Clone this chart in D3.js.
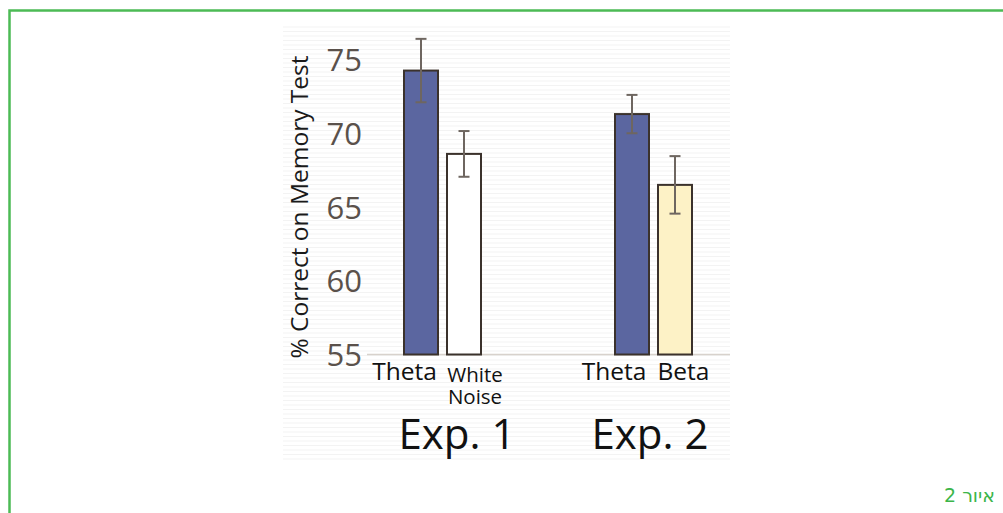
<!DOCTYPE html>
<html><head><meta charset="utf-8">
<script src="https://cdn.jsdelivr.net/npm/d3@7"></script>
<style>body{margin:0;background:#fff;}svg{display:block;}</style>
</head><body>
<svg id="c" width="1003" height="513"></svg>
<script>
const categories = ["Theta", "White Noise", "Theta", "Beta"];
const groups = ["Exp. 1", "Exp. 1", "Exp. 2", "Exp. 2"];
const groupLabels = ["Exp. 1", "Exp. 2"];
const means = [74.25, 68.6, 71.3, 66.5];
const errors = [2.15, 1.55, 1.3, 1.95];
const fills = ["#5b66a0", "#ffffff", "#5b66a0", "#fdf2c6"];
const yTicks = [55, 60, 65, 70, 75];
const caption = "איור 2";

const svg = d3.select("#c");

// green frame
svg.append("path").attr("d", "M9.5,513 L9.5,10.5 L1003,10.5")
  .attr("fill", "none").attr("stroke", "#4cbb55").attr("stroke-width", 2.5);

// faint striped image background
const bg = svg.append("g");
for (let yy = 27; yy < 462; yy += 4.5) {
  bg.append("line").attr("x1", 283).attr("x2", 730).attr("y1", yy).attr("y2", yy)
    .attr("stroke", "#f3f3f3").attr("stroke-width", 1);
}

const y = d3.scaleLinear().domain([55, 75]).range([354.5, 59.5]);
const x = d3.scaleOrdinal().domain(d3.range(4)).range([404, 447, 615, 658]);
const bw = 34;

// baseline
svg.append("line").attr("x1", 367).attr("x2", 730).attr("y1", y(55)).attr("y2", y(55))
  .attr("stroke", "#d8d2cc").attr("stroke-width", 1.5);

// y axis (labels only)
const yAxis = d3.axisLeft(y).tickValues(yTicks).tickSize(0).tickPadding(0);
const ya = svg.append("g").attr("transform", "translate(362,0)").call(yAxis);
ya.select(".domain").remove();
ya.selectAll("text").attr("font-family", "Open Sans").attr("font-size", 31)
  .attr("fill", "#5a514b").attr("dy", "0.36em");

// y label
svg.append("text").attr("transform", "translate(308,207) rotate(-90)")
  .attr("text-anchor", "middle").attr("font-family", "Open Sans").attr("font-size", 24.5)
  .attr("fill", "#1a1a1a").text("% Correct on Memory Test");

// bars
svg.selectAll("rect.bar").data(means).enter().append("rect").attr("class", "bar")
  .attr("x", (d, i) => x(i)).attr("width", bw)
  .attr("y", d => y(d)).attr("height", d => y(55) - y(d))
  .attr("fill", (d, i) => fills[i]).attr("stroke", "#3b322c").attr("stroke-width", 2);

// error bars
const eb = svg.selectAll("g.eb").data(means).enter().append("g")
  .attr("stroke", "#6e6660").attr("stroke-width", 2);
eb.append("line").attr("x1", (d, i) => x(i) + bw / 2).attr("x2", (d, i) => x(i) + bw / 2)
  .attr("y1", (d, i) => y(d + errors[i])).attr("y2", (d, i) => y(d - errors[i]));
eb.append("line").attr("x1", (d, i) => x(i) + bw / 2 - 5.5).attr("x2", (d, i) => x(i) + bw / 2 + 5.5)
  .attr("y1", (d, i) => y(d + errors[i])).attr("y2", (d, i) => y(d + errors[i]));
eb.append("line").attr("x1", (d, i) => x(i) + bw / 2 - 5.5).attr("x2", (d, i) => x(i) + bw / 2 + 5.5)
  .attr("y1", (d, i) => y(d - errors[i])).attr("y2", (d, i) => y(d - errors[i]));

// category labels
const catPos = [{x: 404.5, y: 380, s: 24.5}, {x: 475, y: 382, s: 20.5}, {x: 614, y: 380, s: 24.5}, {x: 683.5, y: 380, s: 24.5}];
categories.forEach((c, i) => {
  const p = catPos[i];
  c.split(" ").forEach((w, j) => {
    svg.append("text").attr("font-family", "Open Sans").attr("font-size", p.s)
      .attr("fill", "#111").attr("text-anchor", "middle")
      .attr("x", p.x).attr("y", p.y + j * 22).text(w);
  });
});

// group labels
const gx = [457, 650];
groupLabels.forEach((g, i) => {
  svg.append("text").attr("x", gx[i]).attr("y", 449).attr("text-anchor", "middle")
    .attr("font-family", "Open Sans").attr("font-size", 42).attr("fill", "#111").text(g);
});

// caption
svg.append("text").attr("x", 995).attr("y", 502).attr("text-anchor", "end")
  .attr("font-family", "DejaVu Sans, sans-serif").attr("font-size", 19)
  .attr("fill", "#3cb54a")
  .text(caption);
</script>
</body></html>
